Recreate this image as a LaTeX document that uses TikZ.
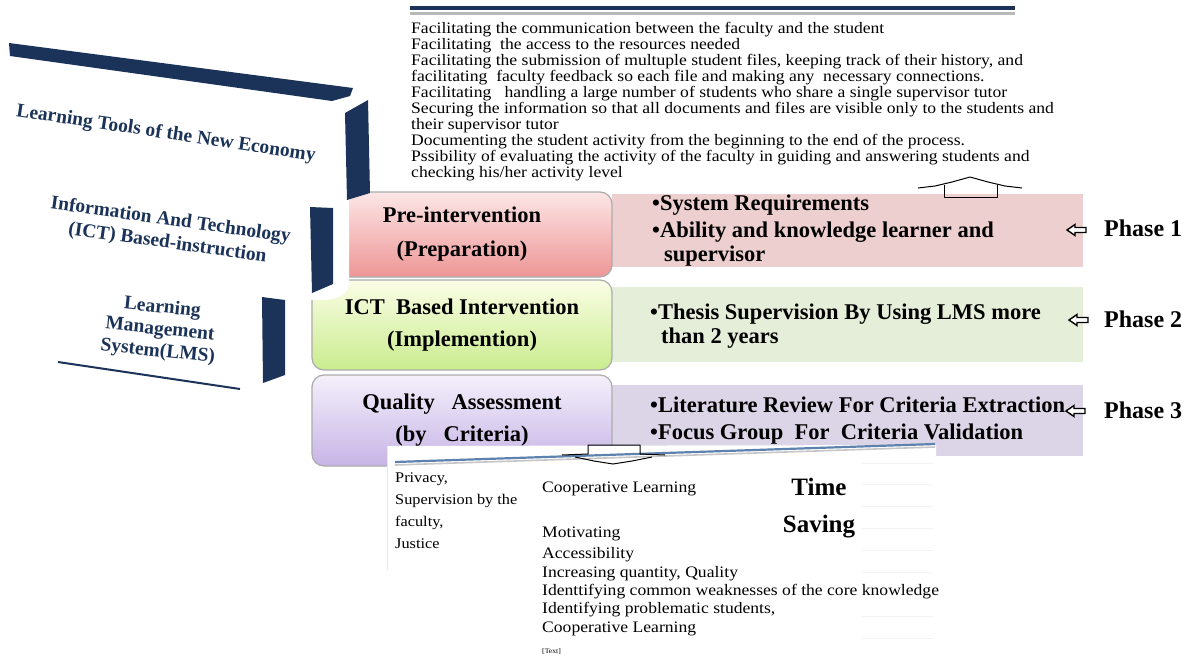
\documentclass[tikz,border=0pt]{standalone}
\usepackage{fontspec}
\setmainfont{Liberation Serif}
\newfontfamily\bodyfont[FakeStretch=1.1]{Liberation Serif}
\definecolor{navy}{HTML}{1B3358}
\definecolor{pinkrect}{HTML}{EDCFCF}
\definecolor{greenrect}{HTML}{E5EED9}
\definecolor{purprect}{HTML}{DCD5E7}
\definecolor{pinktop}{HTML}{FCE6E6}
\definecolor{pinkbot}{HTML}{EE9696}
\definecolor{greentop}{HTML}{FBFDE6}
\definecolor{greenbot}{HTML}{C9EC8E}
\definecolor{purptop}{HTML}{F4F0FB}
\definecolor{purpbot}{HTML}{C7B4E6}
\definecolor{steel}{HTML}{5D82AE}
\tikzset{
  stagebox/.style={draw=gray!65, line width=1.2pt, rounded corners=12pt, minimum width=300pt, align=center, inner sep=0pt, font=\fontsize{22.5}{32}\selectfont\bfseries},
  detailrect/.style={minimum width=471pt, inner sep=0pt},
  bullettext/.style={anchor=base west, inner sep=0pt, font=\fontsize{22.5}{26}\selectfont\bfseries},
  phaselabel/.style={anchor=base west, inner sep=0pt, font=\fontsize{24}{28}\selectfont\bfseries},
  phasearrow/.style={draw=black, fill=white, line width=1.4pt, line join=miter},
  navytext/.style={text=navy, font=\fontsize{19.5}{23}\selectfont\bfseries, align=center, inner sep=0pt},
  bodyline/.style={anchor=base west, inner sep=0pt, font=\bodyfont\fontsize{16}{16}\selectfont},
  smallline/.style={anchor=base west, inner sep=0pt, font=\bodyfont\fontsize{14.8}{16}\selectfont},
  bigline/.style={anchor=base, inner sep=0pt, font=\fontsize{25}{30}\selectfont\bfseries},
  blockarrow/.style={draw=black, line width=1pt, line join=round},
}
\begin{document}
\begin{tikzpicture}[x=1pt,y=-1pt]
\useasboundingbox (0,0) rectangle (1193,659);
\fill[white] (0,0) rectangle (1193,659);

% right detail rectangles
\node[detailrect, fill=pinkrect, minimum height=73pt] (r1) at (847.5,230.5) {};
\node[detailrect, fill=greenrect, minimum height=75pt] (r2) at (847.5,324.5) {};
\node[detailrect, fill=purprect, minimum height=71pt] (r3) at (847.5,420.5) {};

% stage boxes
\node[stagebox, top color=pinktop, bottom color=pinkbot, minimum height=85pt] (b1) at (462,234.5) {Pre-intervention\\[2pt](Preparation)};
\node[stagebox, top color=greentop, bottom color=greenbot, minimum height=90pt] (b2) at (462,325) {ICT\ \ Based Intervention\\(Implemention)};
\node[stagebox, top color=purptop, bottom color=purpbot, minimum height=91pt] (b3) at (462,420.5) {Quality\ \ \ Assessment\\(by\ \ \ Criteria)};

% left stacked box (covers left part of first stage box)
\fill[white] (296,184) -- (349,184) -- (349,283) to[out=-90,in=0] (322,300) -- (296,300) -- cycle;
\fill[navy] (9,43) -- (353,88) -- (350,96) -- (332,101) -- (10,56) -- cycle;
\fill[navy] (345,113) -- (368,100) -- (370,193) -- (347,200) -- cycle;
\fill[navy] (310,207) -- (333,208) -- (333,284) -- (312,293) -- cycle;
\fill[navy] (262,297) -- (285,300) -- (285,375) -- (263,383) -- cycle;
\draw[navy, line width=2pt] (58,362) -- (240,389);
\node[navytext, rotate=-8.5] (t1) at (166,134) {Learning Tools of the New Economy};
\node[navytext, rotate=-8] (t2) at (169,232) {Information And Technology\\(ICT) Based-instruction};
\node[navytext, rotate=-6, font=\fontsize{19.5}{22}\selectfont\bfseries] (t3) at (160,330) {Learning\\Management\\System(LMS)};

% bullet texts
\node[bullettext] (s1) at (652,210) {•System Requirements};
\node[bullettext] (s2) at (652,237) {•Ability and knowledge learner and};
\node[bullettext] (s3) at (664,261) {supervisor};
\node[bullettext] (s4) at (650,319) {•Thesis Supervision By Using LMS more};
\node[bullettext] (s5) at (661,343) {than 2 years};
\node[bullettext] (s6) at (650,412) {•Literature Review For Criteria Extraction};
\node[bullettext] (s7) at (650,439) {•Focus Group\ \ For\ \ Criteria Validation};

% phase labels and open arrows pointing to the rows
\node[phaselabel] (p1) at (1104,236) {Phase 1};
\node[phaselabel] (p2) at (1104,327) {Phase 2};
\node[phaselabel] (p3) at (1104,418) {Phase 3};
\coordinate (a1) at (1067,230);
\coordinate (a2) at (1069,320);
\coordinate (a3) at (1066,411);
\foreach \aa in {a1,a2,a3}
  \draw[phasearrow] (\aa) -- ++(8,-5.5) -- ++(0,3) -- ++(11,0) -- ++(0,5) -- ++(-11,0) -- ++(0,3) -- cycle;

% top text box
\draw[navy, line width=3.5pt] (410,8) -- (1015,8);
\draw[gray!55, line width=2.5pt] (410,13.5) -- (1015,13.5);
\node[bodyline] (l1) at (411,33) {Facilitating the communication between the faculty and the student};
\node[bodyline] (l2) at (411,49) {Facilitating\ \ the access to the resources needed};
\node[bodyline] (l3) at (411,65) {Facilitating the submission of multuple student files, keeping track of their history, and};
\node[bodyline] (l4) at (411,81) {facilitating\ \ faculty feedback so each file and making any\ \ necessary connections.};
\node[bodyline] (l5) at (411,97) {Facilitating\ \ \ handling a large number of students who share a single supervisor tutor};
\node[bodyline] (l6) at (411,113) {Securing the information so that all documents and files are visible only to the students and};
\node[bodyline] (l7) at (411,129) {their supervisor tutor};
\node[bodyline] (l8) at (411,145) {Documenting the student activity from the beginning to the end of the process.};
\node[bodyline] (l9) at (411,161) {Pssibility of evaluating the activity of the faculty in guiding and answering students and};
\node[bodyline] (l10) at (411,177) {checking his/her activity level};

% up block arrow
\draw[blockarrow] (918,188) -- (935,186) -- (952,182) -- (970,177) -- (988,182) -- (1005,186) -- (1022,188);
\draw[blockarrow] (944,185) -- (944,197) -- (997,197) -- (997,185);

% bottom text box
\fill[white] (387,446) -- (936,445) -- (936,659) -- (387,659) -- cycle;
\draw[gray!18, line width=0.8pt] (387,446) -- (387,570);
\foreach \yy in {463,484,506,528,550,572,616,638} \draw[gray!10, line width=0.8pt] (862,\yy) -- (933,\yy);
\draw[gray!45, line width=1.6pt] (395,465) -- (935,447);
\draw[steel, line width=2.2pt] (395,462) -- (935,444);

% down block arrow
\draw[blockarrow] (562,455) -- (588,454) -- (588,445) -- (640,445) -- (640,454) -- (665,455);
\draw[blockarrow] (575,457) -- (594,461) -- (613,464) -- (632,461) -- (652,457);

\node[smallline] (c1) at (395,482) {Privacy,};
\node[smallline] (c2) at (395,504) {Supervision by the};
\node[smallline] (c3) at (395,526) {faculty,};
\node[smallline] (c4) at (395,548) {Justice};

\node[bodyline] (m1) at (542,492) {Cooperative Learning};
\node[bodyline] (m2) at (542,537) {Motivating};
\node[bodyline] (m3) at (542,558) {Accessibility};
\node[bodyline] (m4) at (542,577) {Increasing quantity, Quality};
\node[bodyline] (m5) at (542,595) {Identtifying common weaknesses of the core knowledge};
\node[bodyline] (m6) at (542,613) {Identifying problematic students,};
\node[bodyline] (m7) at (542,632) {Cooperative Learning};
\node[anchor=base west, inner sep=0pt, font=\bodyfont\fontsize{7}{8}\selectfont] (m8) at (542,653) {[Text]};

\node[bigline] (ts1) at (819,495) {Time};
\node[bigline] (ts2) at (819,532) {Saving};
\end{tikzpicture}
\end{document}
